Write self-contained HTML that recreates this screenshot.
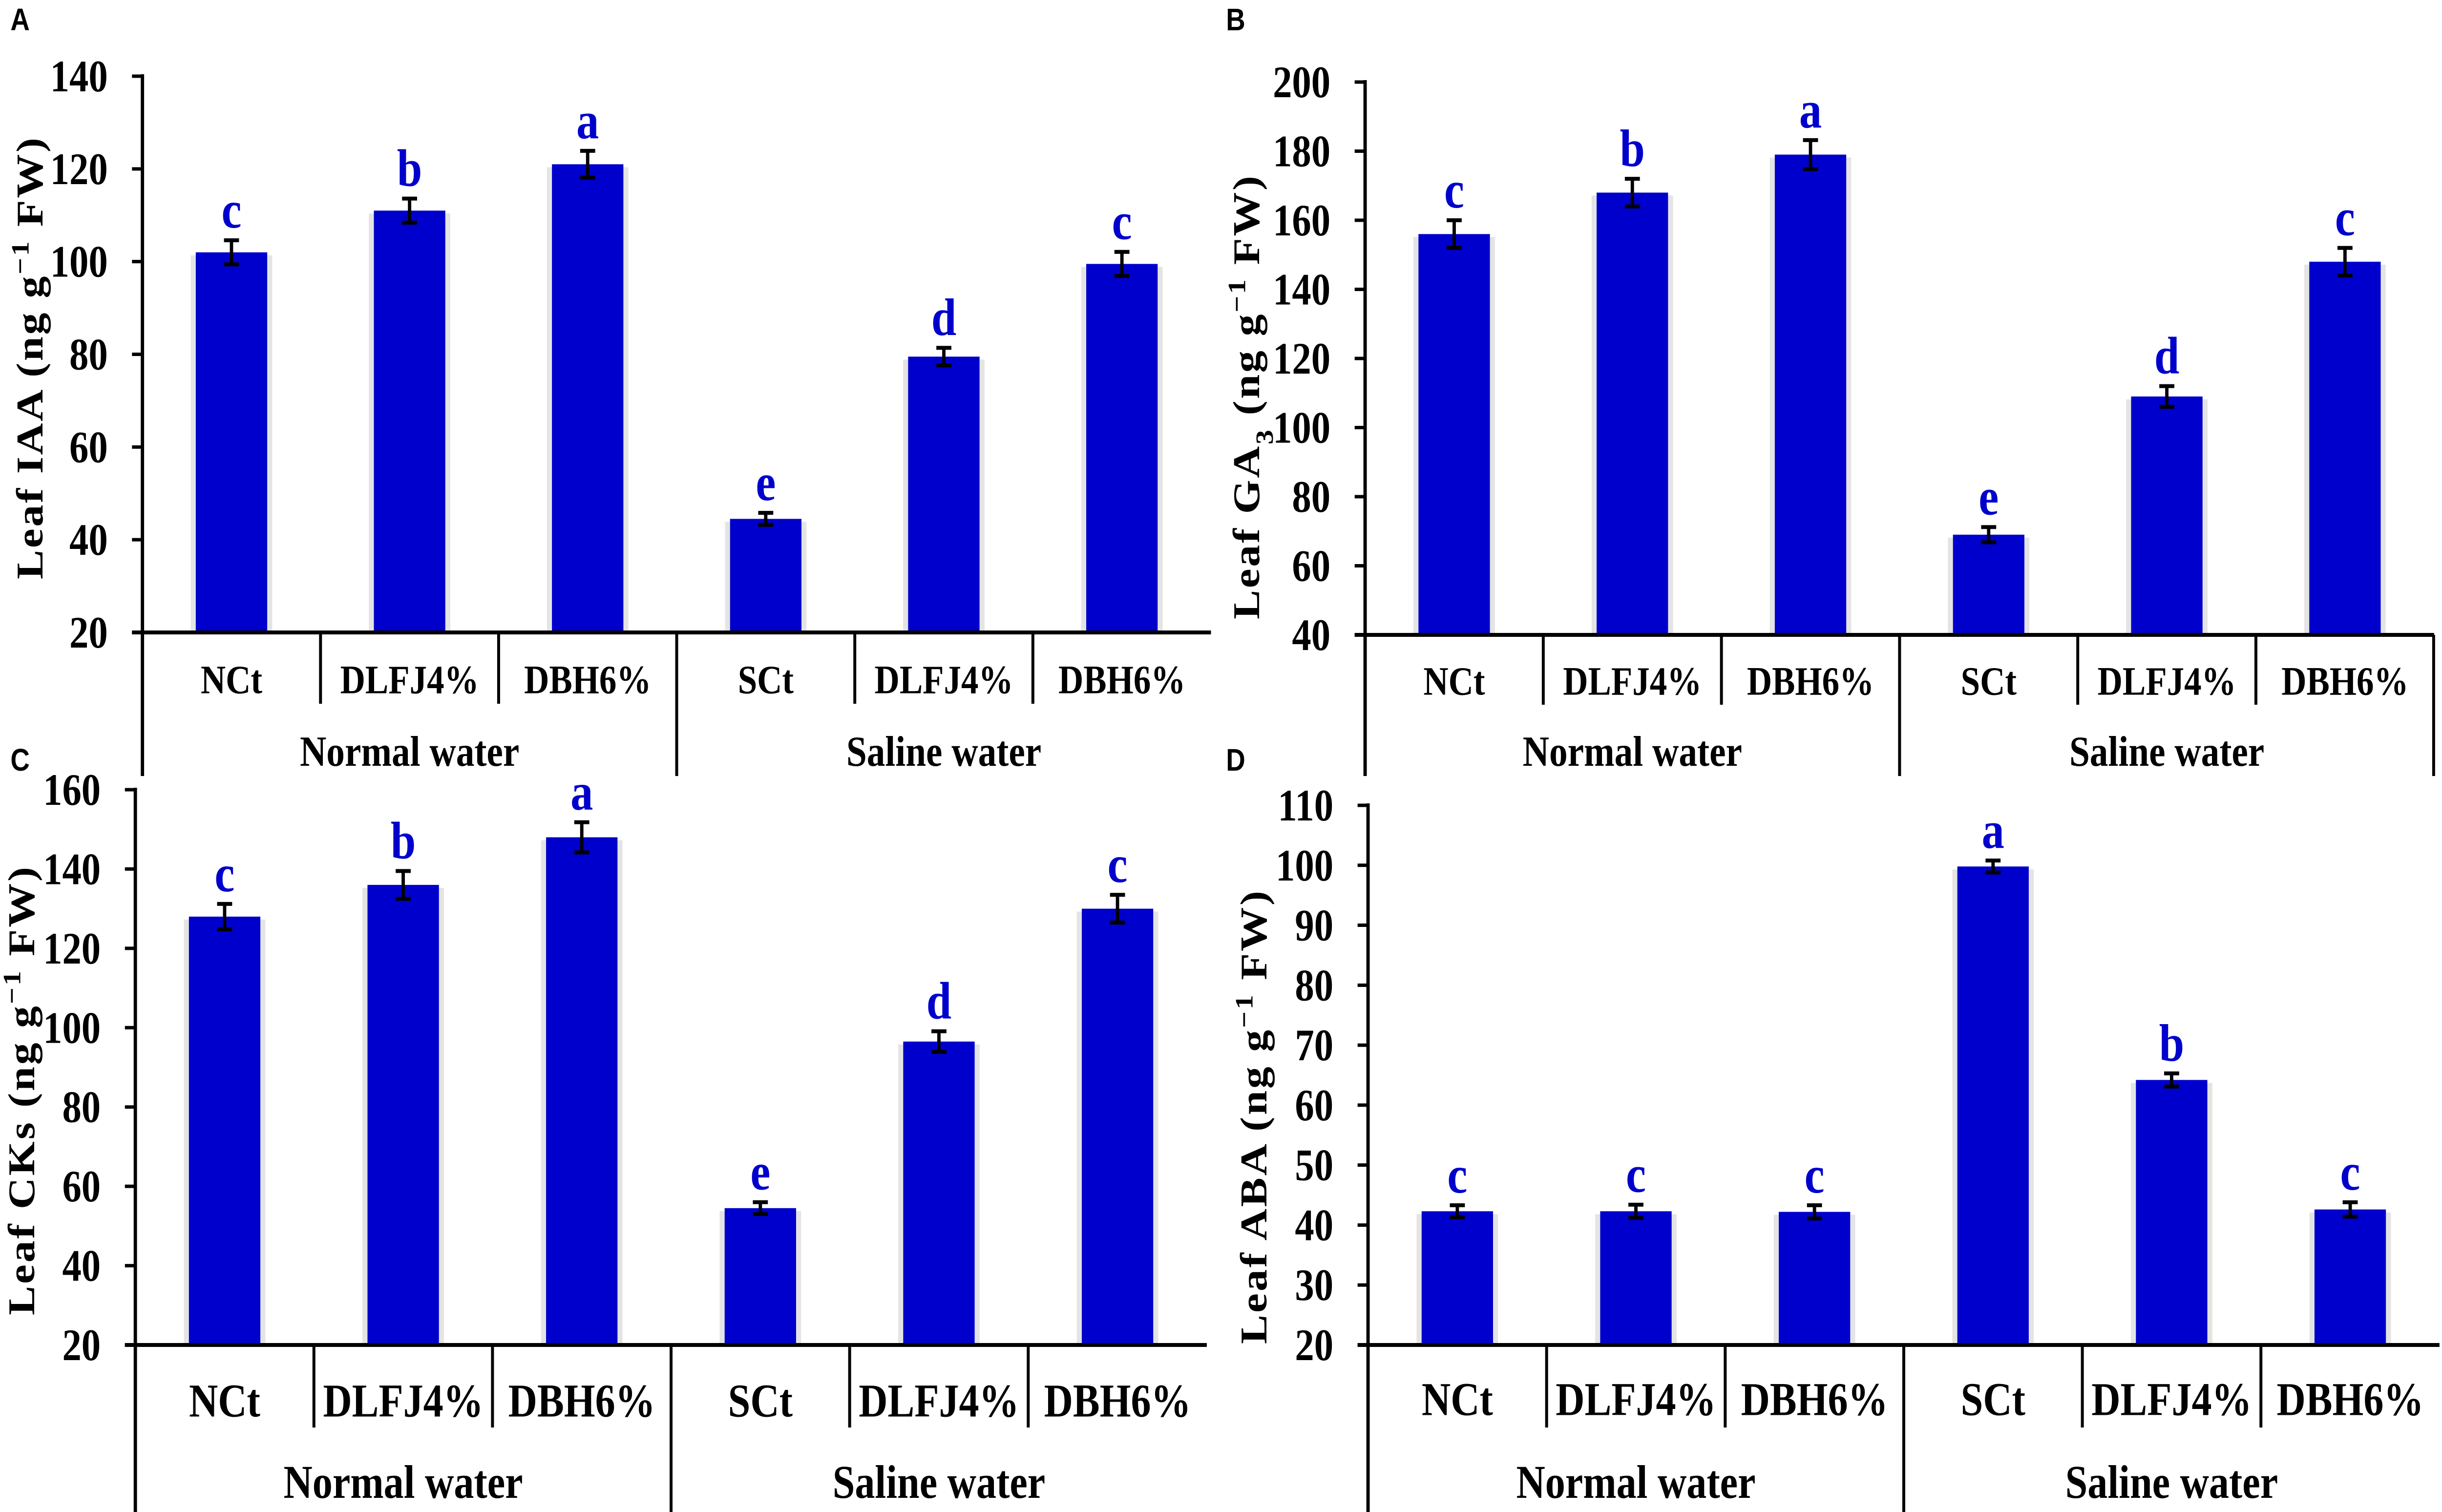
<!DOCTYPE html>
<html><head><meta charset="utf-8"><style>
html,body{margin:0;padding:0;background:#fff;width:100%;height:100%;overflow:hidden;}
svg{display:block;width:100vw;height:100vh;font-family:"Liberation Serif","Times New Roman",serif;font-weight:bold;}
</style></head><body>
<svg id="fig" viewBox="0 0 5846 3096" preserveAspectRatio="none" xmlns="http://www.w3.org/2000/svg" overflow="hidden">
<g id="layerTop"></g>
<g id="layerBot"></g>
</svg>
<script>
const categories = ["NCt","DLFJ4%","DBH6%","SCt","DLFJ4%","DBH6%"];
const groups = ["Normal water","Saline water"];
const valuesA = [102, 111, 121, 44.5, 79.5, 99.5];
const errorsA = [2.6, 2.6, 2.9, 1.3, 1.9, 2.6];
const lettersA = ["c","b","a","e","d","c"];
const ticksA = [20,40,60,80,100,120,140];
const valuesB = [156, 168, 179, 69, 109, 148];
const errorsB = [4, 4, 4.2, 2.2, 3, 4];
const lettersB = ["c","b","a","e","d","c"];
const ticksB = [40,60,80,100,120,140,160,180,200];
const valuesC = [128, 136, 148, 54.5, 96.5, 130];
const errorsC = [3.2, 3.5, 3.8, 1.5, 2.6, 3.5];
const lettersC = ["c","b","a","e","d","c"];
const ticksC = [20,40,60,80,100,120,140,160];
const valuesD = [42.3, 42.3, 42.2, 99.8, 64.2, 42.6];
const errorsD = [1, 1.1, 1.1, 1, 1.1, 1.2];
const lettersD = ["c","c","c","a","b","c"];
const ticksD = [20,30,40,50,60,70,80,90,100,110];

const NS = "http://www.w3.org/2000/svg";
function mk(tag, attrs, parent){
  const e = document.createElementNS(NS, tag);
  for (const k in attrs) e.setAttribute(k, attrs[k]);
  parent.appendChild(e);
  return e;
}
const panels = [
 {id:"a", layer:"layerTop", label:"A", lx:25, ly:62, ox:341, x1:2899, yTop:156, yBot:1295, vals:valuesA, errs:errorsA, lets:lettersA, ticks:ticksA,
  catY:1392, divBot:1441, groupBase:1568, bigBot:1589, catFont:83, groupFont:88, title:["Leaf  IAA (ng g","−1"," FW)"], sub:false, tx:70, ty:734, tlen:904, rightBig:false},
 {id:"b", layer:"layerTop", label:"B", lx:2935, ly:62, ox:3268, x1:5827, yTop:168, yBot:1300, vals:valuesB, errs:errorsB, lets:lettersB, ticks:ticksB,
  catY:1395, divBot:1443, groupBase:1568, bigBot:1589, catFont:83, groupFont:88, title:["Leaf  GA","3"," (ng g","−1"," FW)"], sub:true, tx:2982, ty:814, tlen:908, rightBig:true},
 {id:"c", layer:"layerBot", label:"C", lx:25, ly:1578, ox:324, x1:2889, yTop:1617, yBot:2754, vals:valuesC, errs:errorsC, lets:lettersC, ticks:ticksC,
  catY:2869, divBot:2923, groupBase:3067, bigBot:3096, catFont:96, groupFont:96, title:["Leaf  CKs (ng g","−1"," FW)"], sub:false, tx:50, ty:2234, tlen:918, rightBig:false},
 {id:"d", layer:"layerBot", label:"D", lx:2935, ly:1578, ox:3275, x1:5840, yTop:1649, yBot:2754, vals:valuesD, errs:errorsD, lets:lettersD, ticks:ticksD,
  catY:2866, divBot:2923, groupBase:3067, bigBot:3096, catFont:96, groupFont:96, title:["Leaf  ABA (ng g","−1"," FW)"], sub:false, tx:3000, ty:2288, tlen:928, rightBig:false}
];

panels.forEach(p => {
  const layer = document.getElementById(p.layer);
  const g = mk("g", {}, layer);
  
  
  const tMin = p.ticks[0], tMax = p.ticks[p.ticks.length-1];
  const y = v => p.yBot - (v - tMin) / (tMax - tMin) * (p.yBot - p.yTop);
  const n = categories.length;
  const cw = (p.x1 - p.ox) / n;
  const x = i => p.ox + cw * (i + 0.5);
  const bw = 171;

  const pl = mk("text", {x:p.lx, y:p.ly, "font-family":"Liberation Sans, Arial, sans-serif", "font-size":64, "font-weight":"bold", fill:"#000"}, g);
  pl.textContent = p.label;
  
  

  p.vals.forEach((v, i) => {
    const sh = mk("rect", {x:x(i)-bw/2-12, y:y(v)+6, width:bw+24, height:p.yBot-y(v)-6, fill:"#e4e4e4"}, g);
    
    
    const r = mk("rect", {x:x(i)-bw/2, y:y(v), width:bw, height:p.yBot-y(v), fill:"#0000CC"}, g);
    
    
    const e = p.errs[i];
    const eb = mk("path", {d:`M${x(i)-18},${y(v+e)}H${x(i)+18}M${x(i)},${y(v+e)}V${y(v-e)}M${x(i)-18},${y(v-e)}H${x(i)+18}`, stroke:"#000", "stroke-width":8, fill:"none"}, g);
    
    
    const lt = mk("text", {x:x(i), y:y(v+e)-26, "text-anchor":"middle", "font-size":108, fill:"#0000CC"}, g);
    lt.textContent = p.lets[i];
    
    
  });

  const ax = mk("path", {d:`M${p.ox},${p.yTop-4}V${p.bigBot}M${p.ox-25},${p.yBot}H${p.x1}`, stroke:"#000", "stroke-width":8, fill:"none"}, g);
  
  
  p.ticks.forEach(t => {
    const tk = mk("line", {x1:p.ox-25, x2:p.ox, y1:y(t), y2:y(t), stroke:"#000", "stroke-width":7}, g);
    
    
    const tl = mk("text", {x:p.ox-83, y:y(t)+31, "text-anchor":"end", "font-size":92, fill:"#000"}, g);
    tl.textContent = t;
    
    
  });

  for (let i = 1; i < n; i++) {
    const big = (i === n/2);
    const dv = mk("line", {x1:p.ox+cw*i, x2:p.ox+cw*i, y1:p.yBot, y2:big ? p.bigBot : p.divBot, stroke:"#000", "stroke-width":7}, g);
    
    
  }
  if (p.rightBig) {
    const rb = mk("line", {x1:p.x1-1, x2:p.x1-1, y1:p.yBot, y2:p.bigBot, stroke:"#000", "stroke-width":7}, g);
    
    
  }
  categories.forEach((c, i) => {
    const cl = mk("text", {x:x(i), y:p.catY + p.catFont*0.33, "text-anchor":"middle", "font-size":p.catFont, fill:"#000"}, g);
    cl.textContent = c;
    
    
  });
  groups.forEach((gr, j) => {
    const gx = p.ox + cw * 3 * (j + 0.5);
    const gl = mk("text", {x:gx, y:p.groupBase, "text-anchor":"middle", "font-size":p.groupFont, fill:"#000"}, g);
    gl.textContent = gr;
    
    
  });

  const tt = mk("text", {x:0, y:0, "text-anchor":"middle", "font-size":90, fill:"#000", transform:`translate(${p.tx + 32},${p.ty}) rotate(-90)`, textLength:p.tlen, lengthAdjust:"spacing"}, g);
  
  
  p.title.forEach((s, k) => {
    const ts = mk("tspan", {}, tt);
    if (p.sub && k === 1) { ts.setAttribute("baseline-shift", "sub"); ts.setAttribute("font-size", 60); }
    else if (s === "−1") { ts.setAttribute("baseline-shift", "super"); ts.setAttribute("font-size", 60); }
    ts.textContent = s;
  });
});
</script>
</body></html>
